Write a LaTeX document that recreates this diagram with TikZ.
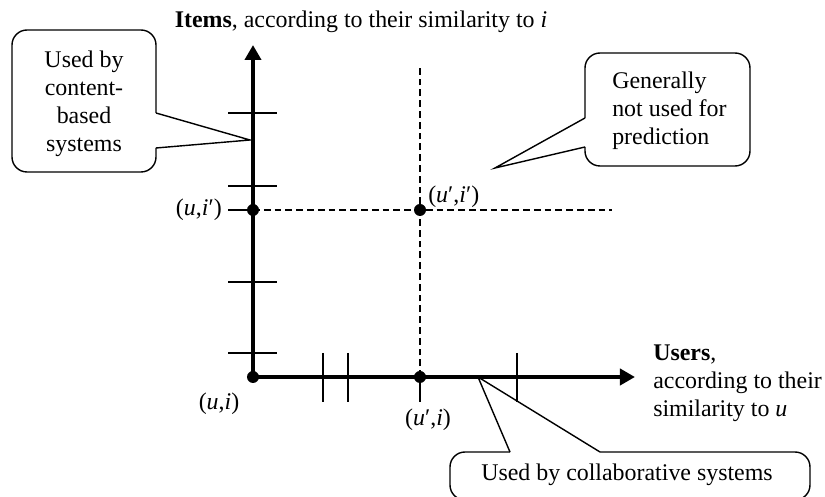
\documentclass[tikz,border=0pt]{standalone}
\usepackage{fontspec}
\setmainfont{Liberation Serif}
\usetikzlibrary{arrows.meta}

\begin{document}
\begin{tikzpicture}[x=0.025cm,y=-0.025cm,
    font=\fontsize{17}{19.9}\selectfont,
    axis/.style={line width=2.8pt},
    tick/.style={line width=1.2pt},
    guide/.style={line width=1.3pt, dash pattern=on 0.17cm off 0.1cm},
    dot/.style={circle, fill, inner sep=0pt, minimum size=0.3cm},
    callout/.style={line width=1pt},
    lbl/.style={inner sep=0pt}]
  \useasboundingbox (0,0) rectangle (825,497);

  % axes and points
  \coordinate (ytop) at (253,45);
  \coordinate (xend) at (635,377);
  \node[dot] (ui) at (253,377) {};
  \node[dot] (uip) at (253,210) {};
  \node[dot] (upip) at (420,210) {};
  \node[dot] (upi) at (420,377) {};
  \coordinate (vtop) at (420,68);
  \coordinate (hend) at (612,210);

  \draw[guide] (upi.center) -- (vtop);
  \draw[guide] (uip.center) -- (hend);
  \foreach \y in {113,186,282,353}
    \draw[tick] (228,\y) -- (277,\y);
  \draw[tick] (228,210) -- (uip.center);
  \foreach \x in {323,348,517}
    \draw[tick] (\x,353) -- (\x,402);
  \draw[tick] (upi.center) -- (420,402);
  \draw[axis,-{Triangle[length=3.75mm,width=4mm]}] (ui.center) -- (ytop);
  \draw[axis,-{Triangle[length=3.75mm,width=4mm]}] (ui.center) -- (xend);

  % labels
  \node[lbl] (ytitle) at (361,22) {\textbf{Items}, according to their similarity to \textit{i}};
  \node[lbl, align=left, anchor=west] (xtitle) at (653,383)
    {\textbf{Users},\\according to their\\similarity to \textit{u}};
  \node[lbl, anchor=east] (luip) at (222,210) {(\textit{u},\textit{i}′)};
  \node[lbl, anchor=west] (lupip) at (428,197) {(\textit{u}′,\textit{i}′)};
  \node[lbl] (lui) at (219,404) {(\textit{u},\textit{i})};
  \node[lbl] (lupi) at (428,420) {(\textit{u}′,\textit{i})};

  % callouts
  \node[lbl, align=center] (cbased) at (84,104) {Used by\\content-\\based\\systems};
  \coordinate (cbtip) at (250,140);
  \draw[callout, rounded corners=0.375cm] (156,113) -- (156,30) -- (12,30)
    -- (12,172) -- (156,172) -- (156,148);
  \draw[callout] (156,113) -- (cbtip) -- (156,148);

  \node[lbl, align=left, anchor=west] (notused) at (612,111)
    {Generally\\not used for\\prediction};
  \coordinate (nutip) at (495,168);
  \draw[callout, rounded corners=0.375cm] (585,118) -- (585,53) -- (750,53)
    -- (750,166) -- (585,166) -- (585,147);
  \draw[callout] (585,118) -- (nutip) -- (585,147);

  \node[lbl] (collab) at (627,475) {Used by collaborative systems};
  \coordinate (cstip) at (478,377);
  \draw[callout, rounded corners=0.375cm] (510,452) -- (450,452) -- (450,500)
    -- (810,500) -- (810,452) -- (600,452);
  \draw[callout] (510,452) -- (cstip) -- (600,452);
\end{tikzpicture}
\end{document}
